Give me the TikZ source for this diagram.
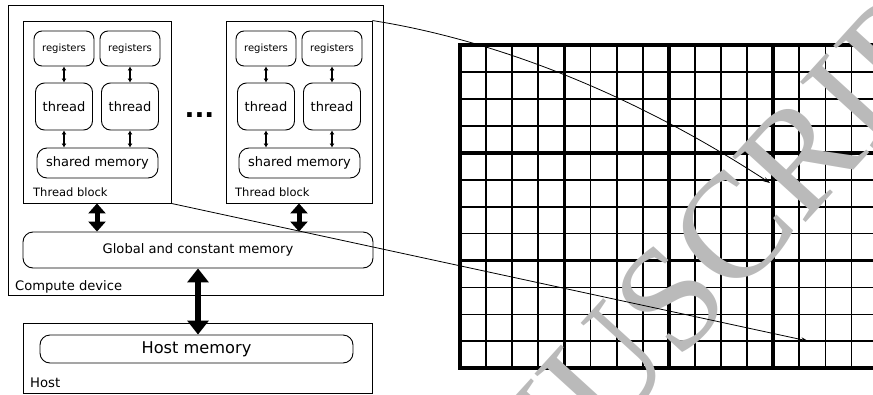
\documentclass[tikz,border=0pt]{standalone}
\usepackage{fontspec}
\setmainfont{DejaVu Sans}
\newfontfamily\wmfont{Liberation Serif}
\usetikzlibrary{arrows.meta}
\begin{document}
\begin{tikzpicture}[x=1pt,y=-1pt,
  box/.style={draw, line width=0.9pt, inner sep=0pt},
  rbox/.style={box, rounded corners=8pt},
  regbox/.style={rbox, minimum width=60pt, minimum height=35pt, font=\fontsize{10}{12}\selectfont},
  thrbox/.style={rbox, rounded corners=9pt, minimum width=57pt, minimum height=47pt, font=\fontsize{13}{15}\selectfont},
  shbox/.style={rbox, rounded corners=10pt, minimum width=121pt, minimum height=30pt, font=\fontsize{13}{15}\selectfont},
  lbl/.style={anchor=base west, inner sep=0pt},
  smallarr/.style={line width=1.1pt, {Latex[length=4pt,width=5pt]}-{Latex[length=4pt,width=5pt]}},
  fatarr/.style={line width=5pt, {Triangle[length=10pt,width=17pt]}-{Triangle[length=10pt,width=17pt]}},
  fatterarr/.style={line width=6.5pt, {Triangle[length=14pt,width=21pt]}-{Triangle[length=14pt,width=21pt]}},
  linkarr/.style={line width=0.8pt, -{Stealth[length=7pt,width=4.5pt]}},
  thingrid/.style={line width=1.8pt},
  thickgrid/.style={line width=3.8pt, line cap=rect},
]
\useasboundingbox (0,0) rectangle (873,394);

% ---------- Compute device ----------
\node[box, minimum width=375pt, minimum height=290pt] (compute) at (195.5,150) {};
\node[lbl, font=\fontsize{13.1}{15}\selectfont] (computelbl) at (15,290) {Compute device};

% Thread block A
\node[box, minimum width=148pt, minimum height=182pt] (blockA) at (97,112) {};
\node[regbox] (rA1) at (64,48.5) {registers};
\node[regbox] (rA2) at (130,48.5) {registers};
\node[thrbox] (tA1) at (64,106.5) {thread};
\node[thrbox] (tA2) at (130,106.5) {thread};
\node[shbox] (sA) at (97.5,163) {shared memory};
\node[lbl, font=\fontsize{11.5}{13}\selectfont] (lblA) at (33,196) {Thread block};
\draw[smallarr] (rA1.south) -- (tA1.north);
\draw[smallarr] (rA2.south) -- (tA2.north);
\draw[smallarr] (tA1.south) -- (tA1.south |- sA.north);
\draw[smallarr] (tA2.south) -- (tA2.south |- sA.north);

% Thread block B
\node[box, minimum width=146pt, minimum height=182pt] (blockB) at (299,112) {};
\node[regbox] (rB1) at (266,48.5) {registers};
\node[regbox] (rB2) at (332,48.5) {registers};
\node[thrbox] (tB1) at (266,106.5) {thread};
\node[thrbox] (tB2) at (332,106.5) {thread};
\node[shbox] (sB) at (299.5,163) {shared memory};
\node[lbl, font=\fontsize{11.5}{13}\selectfont] (lblB) at (235,196) {Thread block};
\draw[smallarr] (rB1.south) -- (tB1.north);
\draw[smallarr] (rB2.south) -- (tB2.north);
\draw[smallarr] (tB1.south) -- (tB1.south |- sB.north);
\draw[smallarr] (tB2.south) -- (tB2.south |- sB.north);

% dots
\node[anchor=base, inner sep=0pt, font=\bfseries\fontsize{26}{28}\selectfont] (dots) at (199.5,117) {...};

% Global memory
\node[rbox, rounded corners=10pt, minimum width=350pt, minimum height=36pt, font=\fontsize{13.1}{15}\selectfont] (global) at (198,250) {Global and constant memory};
\draw[fatarr] (blockA.south) -- (blockA.south |- global.north);
\draw[fatarr] (blockB.south) -- (blockB.south |- global.north);

% ---------- Host ----------
\node[box, minimum width=349pt, minimum height=70pt] (host) at (197.5,358) {};
\node[rbox, rounded corners=10pt, minimum width=313pt, minimum height=28pt, font=\fontsize{16.2}{18}\selectfont] (hostmem) at (196.5,349) {Host memory};
\node[lbl, font=\fontsize{13.2}{15}\selectfont] (hostlbl) at (30,387) {Host};
\draw[fatterarr] (global.south) -- (global.south |- hostmem.north);

% ---------- Grid ----------
\begin{scope}
\clip (0,0) rectangle (873,394);
\foreach \i in {0,...,16} {
  \draw[thingrid] ({460+26.1*\i},45) -- ({460+26.1*\i},368.3);
}
\foreach \j in {0,...,12} {
  \draw[thingrid] (460,{45+26.94*\j}) -- (885,{45+26.94*\j});
}
\foreach \i in {0,4,8,12,16} {
  \draw[thickgrid] ({460+26.1*\i},45) -- ({460+26.1*\i},368.3);
}
\foreach \j in {0,4,8,12} {
  \draw[thickgrid] (460,{45+26.94*\j}) -- (885,{45+26.94*\j});
}
% watermark
\node[rotate=47.7, anchor=base west, inner sep=0pt, text=black!27, font=\wmfont\fontsize{150}{150}\selectfont] (wm) at (370.3,701.4) {MANUSCRIPT};
\end{scope}

% ---------- links ----------
\coordinate (t1) at (770,183);
\coordinate (t2) at (808,341);
\draw[linkarr] (blockB.north east) .. controls (502,41) and (640,98) .. (t1);
\draw[linkarr] (blockA.south east) -- (t2);
\end{tikzpicture}
\end{document}
